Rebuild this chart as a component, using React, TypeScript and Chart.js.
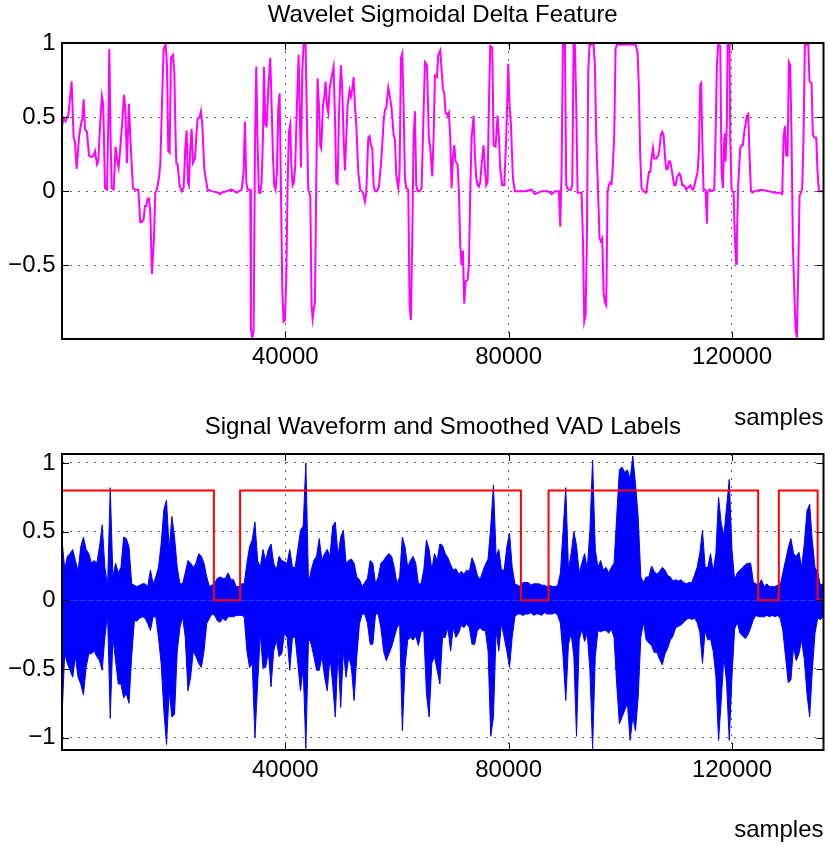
import React, { useEffect, useRef } from "react";
import { Chart, registerables } from "chart.js";

Chart.register(...registerables);

// ---------------- data ----------------
const X_MAX = 136400;
const X_TICKS = [40000, 80000, 120000];
const TOP_Y_TICKS = [-0.5, 0, 0.5, 1];
const BOTTOM_Y_TICKS = [-1, -0.5, 0, 0.5, 1];

// Wavelet sigmoidal delta feature (sample index, value)
const featureX1 = [
  0, 293, 651, 890, 1128, 1367, 1725, 2084, 2322, 2621,
  3039, 3337, 3639, 3876, 4115, 4473, 4832, 5309, 5667, 5905,
  6263, 6502, 6860, 7158, 7397, 7695, 8054, 8292, 8471, 8710,
  8889, 9247, 9605, 9844, 10142, 10441, 10799, 11098, 11337, 11635,
  11994, 12233, 12710, 13068, 13665, 14024, 14262, 14620, 14859, 15098,
  15337, 15576, 15814, 16113, 16471, 16710, 17008, 17367, 17606, 17904,
  18203, 18561, 18800, 19039, 19278, 19516, 19874, 20113, 20352, 20471,
  20710, 21068, 21426, 21784, 22083, 22322, 22560, 22739, 22978, 23217,
  23456, 23814, 24113, 24292, 24650, 24889, 25128, 25486, 25724, 26083,
  26799, 27993, 28292, 28590, 30381, 31277, 32172, 32530, 32769, 33008,
  33247, 33725,
];
const featureY1 = [
  0.44, 0.49, 0.47, 0.5, 0.51, 0.6, 0.74, 0.36, 0.33, 0.15,
  0.36, 0.44, 0.49, 0.62, 0.42, 0.4, 0.24, 0.23, 0.24, 0.27,
  0.18, 0.2, 0.47, 0.64, 0.58, 0.02, 0.01, 0.45, 0.96, 0.36,
  0.02, 0.01, 0.3, 0.22, 0.16, 0.29, 0.47, 0.65, 0.56, 0.19,
  0.59, 0.36, 0.02, 0.01, 0.01, -0.21, -0.21, -0.19, -0.1, -0.1,
  -0.05, -0.05, -0.14, -0.56, -0.32, -0.01, 0.01, 0.09, 0.18, 0.58,
  0.96, 0.99, 0.85, 0.27, 0.26, 0.9, 0.92, 0.81, 0.36, 0.19,
  0.18, 0.04, 0, 0.02, 0.29, 0.41, 0.06, 0.04, 0.29, 0.42,
  0.19, 0.22, 0.4, 0.49, 0.5, 0.54, 0.45, 0.15, 0.09, 0.01,
  0, -0.01, -0.02, -0.01, 0.01, -0.01, 0.01, 0.13, 0.47, 0.06,
  0.01, 0.01,
];
const featureX2 = [
  33844, 34082, 34321, 34560, 34799, 35038, 35276, 35515, 35754, 35993,
  36172, 36411, 36650, 36948, 37306, 37545, 37784, 38023, 38261, 38500,
  38739, 38978, 39217, 39455, 39694, 39933, 40172, 40411, 40649, 40888,
  41067, 41306, 41545, 41784, 42082, 42381, 42620, 42799, 43037, 43276,
  43634, 43873, 44112, 44470, 44709, 44888, 45127, 45306, 45545, 45784,
  46022, 46261, 46440, 46739, 46978, 47216, 47455, 47694, 47933, 48291,
  48649, 48888, 49127, 49366, 49604, 49963, 50201, 50440, 50679, 50918,
  51157, 51515, 51754, 51992, 52231, 52470, 52709, 53067, 53425, 53903,
  54261, 54500, 54858, 55097, 55336, 55574, 55813, 56052, 56410, 56768,
  57127, 57365, 57604, 57843, 58082, 58440, 58679, 59037, 59395, 59634,
  59873, 60231, 60470, 60709, 60947, 61186, 61425, 61664, 62022, 62261,
  62500, 62738, 62977, 63216, 63455, 63694, 64052, 64410, 64649, 65007,
  65366, 65724, 65963, 66321, 66560, 66799, 67157, 67396, 67754,
];
const featureY2 = [
  -0.93, -0.99, -0.95, 0.29, 0.84, 0.31, -0.01, -0.01, 0.06, 0.36,
  0.84, 0.45, 0.44, 0.69, 0.9, 0.58, 0.24, 0.04, 0.01, 0.13,
  0.56, 0.66, 0.02, -0.66, -0.88, -0.87, -0.59, 0.04, 0.4, 0.45,
  0.18, 0.04, 0.06, 0.18, 0.58, 0.92, 0.47, 0.16, 0.81, 0.99,
  0.99, 0.47, 0.01, -0.03, -0.77, -0.86, -0.79, -0.75, 0.06, 0.76,
  0.58, 0.31, 0.29, 0.58, 0.63, 0.74, 0.58, 0.53, 0.69, 0.77,
  0.84, 0.51, 0.06, 0.05, 0.51, 0.85, 0.69, 0.36, 0.14, 0.36,
  0.58, 0.68, 0.64, 0.69, 0.77, 0.58, 0.45, 0.13, 0.01, -0.01,
  -0.07, -0.01, 0.36, 0.37, 0.31, 0.29, 0.04, 0, 0, 0.03,
  0.18, 0.31, 0.47, 0.55, 0.56, 0.7, 0.65, 0.56, 0.38, 0.35,
  0.11, 0.02, 0.13, 0.9, 0.93, 0.58, 0.09, 0.02, 0.01, -0.77,
  -0.87, -0.32, 0.36, 0.54, 0.04, 0, 0, 0.02, 0.36, 0.87,
  0.85, 0.36, 0.29, 0.1, 0.36, 0.78, 0.77, 0.92, 0.95,
];
const featureX3 = [
  68231, 68470, 68708, 69067, 69305, 69544, 69783, 70022, 70261, 70499,
  70858, 71096, 71335, 71574, 71813, 72052, 72290, 72649, 72887, 73126,
  73365, 73723, 73962, 74201, 74440, 74678, 74917, 75156, 75514, 75753,
  75992, 76231, 76469, 76708, 77066, 77305, 77663, 78022, 78260, 78499,
  78857, 79216, 79574, 79932, 80171, 80410, 80768, 81126, 82917, 84111,
  84708, 85305, 85902, 87096, 87693, 88290, 89006, 89245, 89484, 89723,
  90081, 90320, 90678, 91156, 91395, 91633, 91872, 92111, 92350, 93066,
  93305, 93544, 93782, 94021, 94260, 94499, 95215, 95454, 95693, 95932,
  96290, 96529, 96767, 97006, 97245, 97484, 97723, 97961, 98200, 98439,
  98678, 98917, 99155, 99394, 102021,
];
const featureY3 = [
  0.69, 0.66, 0.53, 0.51, 0.53, 0.36, 0.02, 0.22, 0.31, 0.2,
  0.18, -0.01, -0.37, -0.5, -0.4, -0.76, -0.61, -0.6, -0.5, -0.01,
  0.36, 0.51, 0.24, 0.09, 0.04, 0.03, 0.06, 0.18, 0.31, 0.15,
  0.04, 0.06, 0.58, 0.98, 0.97, 0.31, 0.3, 0.51, 0.36, 0.15,
  0.04, 0.04, 0.36, 0.86, 0.58, 0.45, 0.09, 0, 0, 0.01,
  -0.02, -0.01, 0, 0, -0.02, 0, 0, -0.24, 0.13, 0.99,
  0.99, 0.04, 0.01, 0.01, 0.04, 0.99, 0.99, 0.58, -0.01, -0.01,
  -0.32, -0.88, -0.84, -0.32, 0.81, 0.99, 0.99, 0.85, 0.36, 0.09,
  -0.32, -0.34, -0.32, -0.68, -0.75, -0.77, -0.01, 0.04, 0.06, 0.05,
  0.18, 0.38, 0.96, 0.99, 0.99,
];
const featureX4 = [
  102737, 103096, 103334, 103573, 103812, 104170, 104648, 104887, 105125, 105364,
  105603, 105842, 106081, 106439, 106797, 107036, 107275, 107513, 107752, 107991,
  108230, 108469, 108707, 108946, 109185, 109424, 109663, 109901, 110140, 110379,
  110618, 110857, 111095, 111334, 111573, 111812, 112051, 112289, 112528, 112767,
  113006, 113245, 113603, 113842, 114080, 114319, 114498, 114677, 114916, 115274,
  115513, 115633, 115991, 116468, 116827, 117065, 117304, 117543, 117901, 118140,
  118379, 118618, 118737, 118856, 119095, 119215, 119573, 119692, 119931, 120289,
  120528, 120767, 120886, 121125, 121483, 121722, 121961, 122200, 122438, 122677,
  122916, 123155, 123394, 123632, 124110, 125304, 126498, 127692, 128647, 129005,
  129244, 129483, 129722, 129961, 130199, 130438, 130677, 130916, 131155, 131394,
  131632, 131871, 132110, 132349, 132588, 132826, 133065, 133662, 133901, 134259,
  134498, 134856, 135095, 135334, 135573, 136400,
];
const featureY4 = [
  0.99, 0.94, 0.69, 0.24, 0.02, 0, -0.01, 0.06, 0.13, 0.13,
  0.22, 0.29, 0.22, 0.22, 0.24, 0.29, 0.38, 0.4, 0.38, 0.24,
  0.15, 0.15, 0.2, 0.2, 0.15, 0.09, 0.04, 0.04, 0.09, 0.11,
  0.12, 0.09, 0.04, 0.04, 0.03, 0.01, 0.02, 0.03, 0.04, 0.02,
  0.01, 0.03, 0.09, 0.13, 0.27, 0.72, 0.73, 0.36, 0.01, 0.01,
  -0.22, -0.01, 0.01, 0, 0.01, 0.36, 0.85, 0.99, 0.98, 0.13,
  0.02, 0.36, 0.39, 0.2, 0.47, 0.99, 0.99, 0.36, 0.01, -0.01,
  -0.32, -0.49, -0.32, 0.04, 0.29, 0.31, 0.31, 0.4, 0.45, 0.51,
  0.52, 0.24, 0.01, -0.01, 0, 0.01, 0, -0.01, -0.01, -0.02,
  0.36, 0.44, 0.24, 0.24, 0.87, 0.85, 0.36, -0.37, -0.66, -0.93,
  -0.99, -0.55, -0.03, -0.01, 0.02, 0.36, 0.99, 0.99, 0.74, 0.73,
  0.38, 0.36, 0.36, 0.13, 0, 0,
];

// Smoothed VAD labels: value holds from each change point to the next
const vadX = [0, 27200, 31900, 82200, 87150, 124700, 128400, 135350, 136400];
const vadY = [0.8, 0, 0.8, 0, 0.8, 0, 0.8, 0, 0];

// Signal waveform envelope (upper / lower peak per 480-sample block)
const WAVE_STEP = 480;
const waveHi1 = [
  0.44, 0.23, 0.32, 0.34, 0.37, 0.29, 0.21, 0.39, 0.46, 0.37,
  0.34, 0.27, 0.29, 0.27, 0.39, 0.55, 0.24, 0.1, 0.82, 0.17,
  0.27, 0.2, 0.24, 0.46, 0.45, 0.39, 0.12, 0.11, 0.1, 0.11,
  0.12, 0.12, 0.1, 0.22, 0.12, 0.17, 0.24, 0.41, 0.66, 0.73,
  0.37, 0.61, 0.46, 0.24, 0.12, 0.12, 0.2, 0.29, 0.27, 0.24,
  0.27, 0.34, 0.32, 0.27, 0.17, 0.1, 0.11, 0.13, 0.16, 0.17,
  0.16, 0.16, 0.2, 0.15, 0.15, 0.1, 0.1, 0.12, 0.12, 0.27,
  0.39,
];
const waveLo1 = [
  -0.85, -0.39, -0.46, -0.51, -0.56, -0.41, -0.56, -0.61, -0.69, -0.49,
  -0.39, -0.39, -0.37, -0.41, -0.44, -0.51, -0.27, -0.1, -0.86, -0.27,
  -0.44, -0.61, -0.61, -0.71, -0.68, -0.75, -0.41, -0.15, -0.15, -0.13,
  -0.12, -0.13, -0.17, -0.22, -0.12, -0.12, -0.27, -0.46, -0.8, -1.05,
  -0.66, -0.85, -0.83, -0.37, -0.2, -0.12, -0.27, -0.66, -0.56, -0.37,
  -0.41, -0.46, -0.49, -0.37, -0.17, -0.13, -0.1, -0.11, -0.15, -0.16,
  -0.13, -0.15, -0.12, -0.12, -0.12, -0.11, -0.11, -0.11, -0.12, -0.37,
  -0.49,
];
const waveHi2 = [
  0.44, 0.57, 0.29, 0.24, 0.37, 0.29, 0.37, 0.41, 0.27, 0.22,
  0.32, 0.29, 0.28, 0.27, 0.37, 0.24, 0.24, 0.37, 0.51, 0.54,
  1.0, 0.12, 0.22, 0.29, 0.32, 0.45, 0.29, 0.34, 0.37, 0.32,
  0.54, 0.57, 0.32, 0.46, 0.51, 0.27, 0.29, 0.3, 0.27, 0.17,
  0.15, 0.1, 0.13, 0.16, 0.29, 0.27, 0.12, 0.17, 0.27, 0.29,
  0.32, 0.34, 0.32, 0.24, 0.12, 0.17, 0.46, 0.39, 0.24, 0.29,
  0.32, 0.27, 0.12, 0.12, 0.22, 0.44, 0.37, 0.22, 0.34, 0.29,
  0.41,
];
const waveLo2 = [
  -0.46, -1.0, -0.61, -0.24, -0.49, -0.49, -0.37, -0.63, -0.37, -0.29,
  -0.41, -0.39, -0.24, -0.27, -0.51, -0.27, -0.27, -0.46, -0.66, -0.49,
  -1.08, -0.27, -0.32, -0.41, -0.51, -0.51, -0.41, -0.56, -0.66, -0.41,
  -0.61, -0.85, -0.37, -0.78, -0.37, -0.56, -0.41, -0.49, -0.73, -0.41,
  -0.17, -0.1, -0.1, -0.17, -0.32, -0.32, -0.1, -0.1, -0.2, -0.37,
  -0.44, -0.39, -0.34, -0.27, -0.2, -0.17, -0.95, -0.49, -0.29, -0.27,
  -0.29, -0.26, -0.33, -0.23, -0.22, -0.68, -0.85, -0.46, -0.41, -0.51,
  -0.61,
];
const waveHi3 = [
  0.4, 0.34, 0.31, 0.26, 0.22, 0.23, 0.19, 0.21, 0.19, 0.22,
  0.21, 0.31, 0.26, 0.18, 0.15, 0.21, 0.26, 0.3, 0.54, 0.84,
  0.32, 0.37, 0.22, 0.22, 0.39, 0.49, 0.24, 0.12, 0.11, 0.1,
  0.13, 0.13, 0.13, 0.11, 0.12, 0.12, 0.12, 0.11, 0.11, 0.1,
  0.11, 0.1, 0.1, 0.11, 0.2, 0.51, 0.82, 0.22, 0.34, 0.5,
  0.4, 0.2, 0.27, 0.34, 0.23, 0.51, 1.02, 0.37, 0.24, 0.29,
  0.22, 0.24, 0.2, 0.24, 0.27, 0.61, 0.95, 0.97, 0.93, 0.95,
  0.88,
];
const waveLo3 = [
  -0.27, -0.27, -0.2, -0.37, -0.2, -0.27, -0.24, -0.18, -0.2, -0.17,
  -0.2, -0.32, -0.32, -0.22, -0.2, -0.22, -0.22, -0.37, -0.99, -0.85,
  -0.22, -0.37, -0.17, -0.27, -0.37, -0.49, -0.27, -0.12, -0.1, -0.1,
  -0.11, -0.1, -0.1, -0.09, -0.11, -0.1, -0.1, -0.11, -0.09, -0.1,
  -0.1, -0.1, -0.09, -0.11, -0.17, -0.41, -0.73, -0.32, -0.24, -0.41,
  -0.99, -0.29, -0.21, -0.3, -0.24, -0.51, -1.08, -0.41, -0.22, -0.23,
  -0.22, -0.22, -0.24, -0.21, -0.27, -0.61, -0.9, -0.85, -0.8, -0.75,
  -1.02,
];
const waveHi4 = [
  1.05, 0.85, 0.61, 0.17, 0.13, 0.17, 0.17, 0.25, 0.21, 0.19,
  0.21, 0.24, 0.22, 0.18, 0.17, 0.14, 0.15, 0.14, 0.15, 0.13,
  0.12, 0.13, 0.13, 0.18, 0.24, 0.34, 0.51, 0.24, 0.24, 0.34,
  0.21, 0.34, 0.75, 0.56, 0.47, 0.68, 0.88, 0.37, 0.15, 0.2,
  0.22, 0.24, 0.26, 0.27, 0.27, 0.13, 0.12, 0.11, 0.15, 0.1,
  0.12, 0.1, 0.1, 0.1, 0.11, 0.11, 0.2, 0.29, 0.38, 0.45,
  0.34, 0.32, 0.35, 0.24, 0.41, 0.65, 0.7, 0.43, 0.24, 0.2,
  0.11, 0.12,
];
const waveLo4 = [
  -0.85, -0.95, -0.71, -0.27, -0.16, -0.29, -0.31, -0.33, -0.38, -0.38,
  -0.43, -0.47, -0.39, -0.35, -0.29, -0.26, -0.2, -0.19, -0.18, -0.16,
  -0.14, -0.13, -0.14, -0.13, -0.16, -0.23, -0.46, -0.22, -0.29, -0.28,
  -0.37, -0.55, -1.02, -0.73, -0.41, -0.6, -1.02, -0.56, -0.21, -0.16,
  -0.24, -0.26, -0.28, -0.25, -0.2, -0.14, -0.11, -0.12, -0.12, -0.12,
  -0.11, -0.12, -0.11, -0.12, -0.11, -0.13, -0.22, -0.41, -0.6, -0.58,
  -0.34, -0.44, -0.39, -0.29, -0.43, -0.68, -0.85, -0.51, -0.24, -0.13,
  -0.14, -0.12,
];

// ---------------- helpers ----------------
const featureX = [...featureX1, ...featureX2, ...featureX3, ...featureX4];
const featureY = [...featureY1, ...featureY2, ...featureY3, ...featureY4];
const waveHi = [...waveHi1, ...waveHi2, ...waveHi3, ...waveHi4];
const waveLo = [...waveLo1, ...waveLo2, ...waveLo3, ...waveLo4];

const FONT_FAMILY = '"Liberation Sans", Arial, Helvetica, sans-serif';
const FONT_SIZE = 24;
const FONT = { family: FONT_FAMILY, size: FONT_SIZE, weight: "normal" as const };
const GRID_COLOR = "rgba(0,0,0,0.6)";

const fmtY = (v: number) => (v < 0 ? "\u2212" + String(Math.abs(v)) : String(v));

// MATLAB-style box, inward ticks on all four sides, and a title centred on the axes
const framePlugin = {
  id: "matlabFrame",
  afterDraw(chart: any, _args: any, opts: any) {
    const { ctx, chartArea: a, scales } = chart;
    const tl = 7;
    ctx.save();
    ctx.strokeStyle = "#000";
    ctx.lineWidth = 1;
    ctx.beginPath();
    for (const t of scales.x.ticks) {
      const px = Math.round(scales.x.getPixelForValue(t.value)) + 0.5;
      ctx.moveTo(px, a.bottom);
      ctx.lineTo(px, a.bottom - tl);
      ctx.moveTo(px, a.top);
      ctx.lineTo(px, a.top + tl);
    }
    for (const t of scales.y.ticks) {
      const py = Math.round(scales.y.getPixelForValue(t.value)) + 0.5;
      ctx.moveTo(a.left, py);
      ctx.lineTo(a.left + tl, py);
      ctx.moveTo(a.right, py);
      ctx.lineTo(a.right - tl, py);
    }
    ctx.stroke();
    ctx.lineWidth = 2;
    ctx.strokeRect(a.left, a.top, a.right - a.left, a.bottom - a.top);

    if (opts && opts.text) {
      ctx.fillStyle = "#000";
      ctx.font = `normal ${FONT_SIZE}px ${FONT_FAMILY}`;
      ctx.textAlign = "center";
      ctx.textBaseline = "middle";
      ctx.fillText(opts.text, (a.left + a.right) / 2, opts.y);
    }
    ctx.restore();
  },
};

function makeOptions(cfg: {
  title: string;
  titleY: number;
  areaTop: number;
  yMin: number;
  yMax: number;
  yTicks: number[];
  xHeight: number;
  xTickPad: number;
  xLabelPad: number;
}) {
  const grid = { color: GRID_COLOR, lineWidth: 1, drawTicks: false };
  const border = { display: false, dash: [2, 6] };
  return {
    responsive: false,
    maintainAspectRatio: false,
    animation: false as const,
    events: [],
    layout: { padding: { left: 0, right: 4.5, top: cfg.areaTop, bottom: 0 } },
    plugins: {
      legend: { display: false },
      tooltip: { enabled: false },
      title: { display: false },
      matlabFrame: { text: cfg.title, y: cfg.titleY },
    },
    scales: {
      x: {
        type: "linear" as const,
        min: 0,
        max: X_MAX,
        afterBuildTicks: (s: any) => {
          s.ticks = X_TICKS.map((v) => ({ value: v }));
        },
        afterFit: (s: any) => {
          s.height = cfg.xHeight;
        },
        ticks: {
          color: "#000",
          font: FONT,
          padding: cfg.xTickPad,
          maxRotation: 0,
          autoSkip: false,
          callback: (v: any) => String(v),
        },
        grid,
        border,
        title: {
          display: true,
          text: "samples",
          align: "end" as const,
          color: "#000",
          font: FONT,
          padding: { top: 0, bottom: cfg.xLabelPad },
        },
      },
      y: {
        type: "linear" as const,
        min: cfg.yMin,
        max: cfg.yMax,
        afterBuildTicks: (s: any) => {
          s.ticks = cfg.yTicks.map((v) => ({ value: v }));
        },
        afterFit: (s: any) => {
          s.width = 62;
        },
        ticks: {
          color: "#000",
          font: FONT,
          padding: 6.5,
          callback: (v: any) => fmtY(Number(v)),
        },
        grid,
        border,
      },
    },
  };
}

export default function App() {
  const topRef = useRef<HTMLCanvasElement>(null);
  const botRef = useRef<HTMLCanvasElement>(null);

  useEffect(() => {
    const topChart = new Chart(topRef.current as HTMLCanvasElement, {
      type: "line",
      data: {
        datasets: [
          {
            data: featureX.map((x, i) => ({ x, y: featureY[i] })),
            borderColor: "#ff00ff",
            borderWidth: 2,
            pointRadius: 0,
            tension: 0,
            fill: false,
          },
        ],
      },
      options: makeOptions({
        title: "Wavelet Sigmoidal Delta Feature",
        titleY: 15.5,
        areaTop: 43,
        yMin: -0.998,
        yMax: 1,
        yTicks: TOP_Y_TICKS,
        xHeight: 101,
        xTickPad: 4.3,
        xLabelPad: 7.5,
      }) as any,
      plugins: [framePlugin],
    });

    const hiPts = waveHi.map((y, i) => ({ x: i * WAVE_STEP, y }));
    const loPts = waveLo.map((y, i) => ({ x: i * WAVE_STEP, y }));
    const botChart = new Chart(botRef.current as HTMLCanvasElement, {
      type: "line",
      data: {
        datasets: [
          {
            data: vadX.map((x, i) => ({ x, y: vadY[i] })),
            borderColor: "#ff0000",
            borderWidth: 2,
            pointRadius: 0,
            stepped: "before",
            fill: false,
            order: 0,
          },
          {
            data: hiPts,
            borderColor: "#0000ff",
            backgroundColor: "#0000ff",
            borderWidth: 1,
            pointRadius: 0,
            tension: 0,
            fill: "origin",
            order: 1,
          },
          {
            data: loPts,
            borderColor: "#0000ff",
            backgroundColor: "#0000ff",
            borderWidth: 1,
            pointRadius: 0,
            tension: 0,
            fill: "origin",
            order: 1,
          },
        ],
      },
      options: makeOptions({
        title: "Signal Waveform and Smoothed VAD Labels",
        titleY: 17,
        areaTop: 44,
        yMin: -1.09,
        yMax: 1.065,
        yTicks: BOTTOM_Y_TICKS,
        xHeight: 96,
        xTickPad: 6.4,
        xLabelPad: 1.6,
      }) as any,
      plugins: [framePlugin],
    });

    return () => {
      topChart.destroy();
      botChart.destroy();
    };
  }, []);

  return (
    <div
      style={{
        position: "absolute",
        left: 0,
        top: 0,
        width: 828,
        height: 846,
        background: "#fff",
      }}
    >
      <canvas
        ref={topRef}
        width={828}
        height={440}
        style={{ position: "absolute", left: 0, top: 0, width: 828, height: 440 }}
      />
      <canvas
        ref={botRef}
        width={828}
        height={436}
        style={{ position: "absolute", left: 0, top: 410, width: 828, height: 436 }}
      />
    </div>
  );
}
